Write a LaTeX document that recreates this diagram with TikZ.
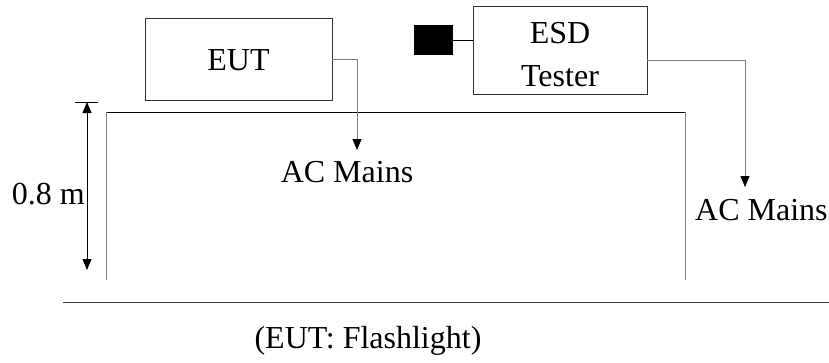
\documentclass[tikz,border=0pt]{standalone}
\usepackage{fontspec}
\setmainfont{Liberation Serif}
\usetikzlibrary{arrows.meta}
\begin{document}
\begin{tikzpicture}[x=1pt,y=-1pt,
  every node/.style={font=\fontsize{32}{38}\selectfont, inner sep=0pt},
  unit/.style={draw=black!80, line width=0.8pt, rectangle},
  cable/.style={draw=black!50, line width=0.8pt, -{Triangle[width=9pt,length=11pt,color=black]}},
  label/.style={anchor=base}]
  \useasboundingbox (0,0) rectangle (829,362);

  % equipment
  \node[unit, minimum width=187pt, minimum height=82pt] (eut) at (238.5,59) {};
  \node at (238.5,59) [yshift=-11pt, anchor=base] {EUT};
  \node[unit, minimum width=174pt, minimum height=88pt] (esd) at (560,50) {};
  \node[label] (esdA) at (560,43) {ESD};
  \node[label] (esdB) at (560,86) {Tester};
  \node[fill=black, minimum width=39pt, minimum height=30pt] (tip) at (433.5,40) {};
  \draw[line width=0.8pt] (tip.east) -- (tip.east -| esd.west);

  % table
  \coordinate (tl) at (106,112);
  \coordinate (tr) at (685,112);
  \coordinate (bl) at (106,280);
  \coordinate (br) at (685,280);
  \draw[line width=0.8pt] (tl) -- (tr);
  \draw[black!50, line width=0.8pt] (tl) -- (bl);
  \draw[black!50, line width=0.8pt] (tr) -- (br);

  % floor
  \coordinate (fl) at (63,302);
  \coordinate (fr) at (829,302);
  \draw[black!75, line width=0.8pt] (fl) -- (fr);

  % mains connections
  \node[label] (acl) at (347,182) {AC Mains};
  \node[label, anchor=base west] (acr) at (695,220) {AC Mains};
  \coordinate (eutplug) at (357,150);
  \coordinate (esdplug) at (745,187);
  \draw[cable] (eut.east) -| (eutplug);
  \draw[cable] ([yshift=-10pt]esd.east) -| (esdplug);

  % height dimension
  \coordinate (dtop) at (87,102);
  \coordinate (dbot) at (87,270);
  \draw[line width=0.8pt] (75,102) -- (98,102);
  \draw[line width=0.8pt, {Triangle[width=9pt,length=11pt]}-{Triangle[width=9pt,length=11pt]}] (dtop) -- (dbot);
  \node[label, anchor=base east] (dim) at (85,204) {0.8 m};

  % caption
  \node[label] (cap) at (368,348) {(EUT: Flashlight)};
\end{tikzpicture}
\end{document}
